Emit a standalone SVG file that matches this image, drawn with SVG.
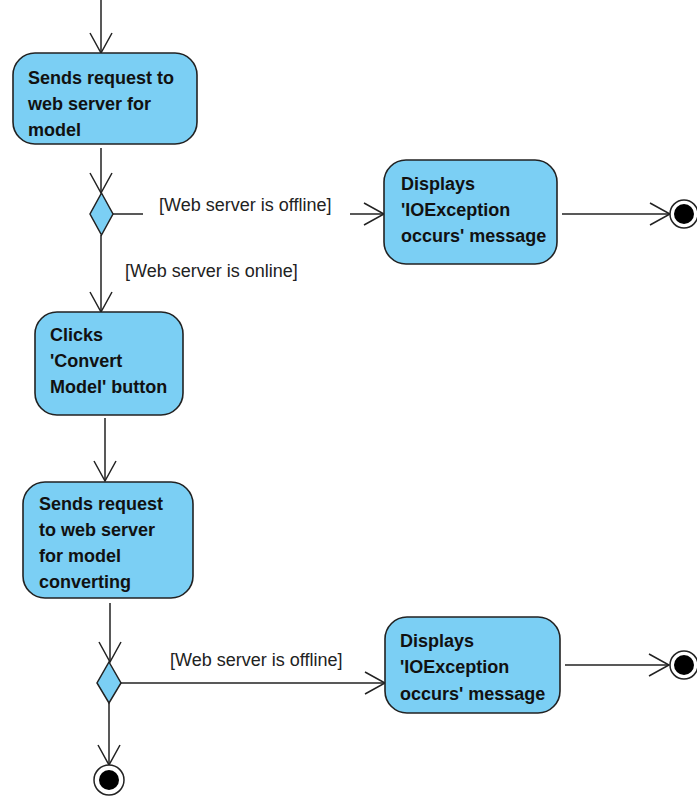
<svg xmlns="http://www.w3.org/2000/svg" width="697" height="796" viewBox="0 0 697 796">
<style>
.node{fill:#7bcff4;stroke:#222;stroke-width:1.6}
.t{font-family:"Liberation Sans",Arial,sans-serif;font-size:18px;font-weight:bold;fill:#111}
.lbl{font-family:"Liberation Sans",Arial,sans-serif;font-size:18px;fill:#222}
.e{fill:none;stroke:#222;stroke-width:1.5;marker-end:url(#arr)}
.ln{fill:none;stroke:#222;stroke-width:1.5}
.dec{fill:#7bcff4;stroke:#222;stroke-width:1.5}
</style>
<defs>
<marker id="arr" markerUnits="userSpaceOnUse" markerWidth="24" markerHeight="26" refX="21" refY="12" orient="auto">
<path d="M1,1 L21,12 L1,23" fill="none" stroke="#222" stroke-width="1.5"/>
</marker>
</defs>
<rect width="697" height="796" fill="#fff"/>
<g id="edges">
<path class="e" d="M101,0 L101,53"/>
<path class="e" d="M101,148 L101,193"/>
<path class="ln" d="M113,214 L143,214"/>
<path class="e" d="M350,214 L384,214"/>
<path class="e" d="M101,235 L101,312"/>
<path class="e" d="M562,214 L670,214"/>
<path class="e" d="M105,418 L105,481"/>
<path class="e" d="M110,603 L110,662"/>
<path class="e" d="M121,683 L385,683"/>
<path class="e" d="M109,703 L109,765"/>
<path class="e" d="M565,665 L669,665"/>
<text class="lbl" x="159" y="211">[Web server is offline]</text>
<text class="lbl" x="125" y="277">[Web server is online]</text>
<text class="lbl" x="170" y="666">[Web server is offline]</text>
</g>
<g id="n1">
<rect class="node" x="13" y="53" width="184" height="91" rx="22" ry="22"/>
<text class="t" x="28" y="84">Sends request to</text>
<text class="t" x="28" y="110">web server for</text>
<text class="t" x="28" y="136">model</text>
</g>
<g id="d1"><path class="dec" d="M101.5,193 L113,214 L101.5,235 L90,214 Z"/></g>
<g id="n2">
<rect class="node" x="384" y="160" width="173" height="104" rx="22" ry="22"/>
<text class="t" x="401" y="190">Displays</text>
<text class="t" x="401" y="216">'IOException</text>
<text class="t" x="401" y="242">occurs' message</text>
</g>
<g id="f1"><circle cx="684" cy="214" r="14" fill="#fff" stroke="#222" stroke-width="1.5"/><circle cx="684" cy="214" r="10" fill="#000"/></g>
<g id="n3">
<rect class="node" x="35" y="312" width="148" height="103" rx="22" ry="22"/>
<text class="t" x="50" y="341">Clicks</text>
<text class="t" x="50" y="367">'Convert</text>
<text class="t" x="50" y="393">Model' button</text>
</g>
<g id="n4">
<rect class="node" x="23" y="482" width="170" height="116" rx="22" ry="22"/>
<text class="t" x="39" y="510">Sends request</text>
<text class="t" x="39" y="536">to web server</text>
<text class="t" x="39" y="562">for model</text>
<text class="t" x="39" y="588">converting</text>
</g>
<g id="d2"><path class="dec" d="M109,662 L121,683 L109,703 L97,683 Z"/></g>
<g id="n5">
<rect class="node" x="385" y="617" width="175" height="96" rx="22" ry="22"/>
<text class="t" x="400" y="647">Displays</text>
<text class="t" x="400" y="673">'IOException</text>
<text class="t" x="400" y="700">occurs' message</text>
</g>
<g id="f2"><circle cx="684" cy="665" r="14" fill="#fff" stroke="#222" stroke-width="1.5"/><circle cx="684" cy="665" r="10" fill="#000"/></g>
<g id="f3"><circle cx="109" cy="780" r="15" fill="#fff" stroke="#222" stroke-width="1.5"/><circle cx="109" cy="780" r="10" fill="#000"/></g>
</svg>
